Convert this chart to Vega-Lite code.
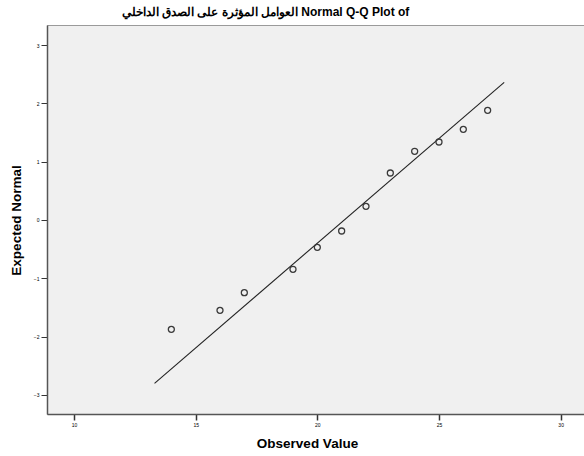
{
  "$schema": "https://vega.github.io/schema/vega-lite/v6.json",
  "autosize": {"type": "none"},
  "padding": {"left": 47, "top": 25, "right": 0, "bottom": 42},
  "width": 537,
  "height": 389,
  "background": "white",
  "config": {
    "font": "Liberation Sans",
    "view": {"fill": "#f0f0f0", "stroke": "#9a9a9a", "strokeWidth": 1}
  },
  "title": {
    "text": "العوامل المؤثرة على الصدق الداخلي Normal Q-Q Plot of",
    "font": "Liberation Sans",
    "fontSize": 12,
    "fontWeight": "bold",
    "color": "#000",
    "anchor": "middle",
    "dx": -50,
    "offset": 6
  },
  "datasets": {
    "observed": [
      {"value": 14, "expected": -1.874},
      {"value": 16, "expected": -1.548},
      {"value": 17, "expected": -1.246},
      {"value": 19, "expected": -0.845},
      {"value": 20, "expected": -0.468},
      {"value": 21, "expected": -0.189},
      {"value": 22, "expected": 0.235},
      {"value": 23, "expected": 0.806},
      {"value": 24, "expected": 1.178},
      {"value": 25, "expected": 1.337},
      {"value": 26, "expected": 1.555},
      {"value": 27, "expected": 1.88}
    ],
    "reference": [
      {"value": 13.31, "expected": -2.8},
      {"value": 27.68, "expected": 2.36}
    ]
  },
  "encoding": {
    "x": {
      "field": "value",
      "type": "quantitative",
      "scale": {"domain": [8.89, 30.96], "nice": false, "zero": false},
      "axis": {
        "title": "Observed Value",
        "titleFont": "Liberation Sans",
        "titleFontSize": 13.5,
        "titleFontWeight": "bold",
        "titleColor": "#000",
        "titleX": 260,
        "titleY": 29,
        "titleBaseline": "middle",
        "values": [10, 15, 20, 25, 30],
        "format": "d",
        "labelFontSize": 5,
        "labelColor": "#000",
        "labelPadding": 2,
        "tickSize": 6,
        "tickColor": "#333",
        "tickWidth": 1.5,
        "domainColor": "#555",
        "domainWidth": 1.5,
        "grid": false
      }
    },
    "y": {
      "field": "expected",
      "type": "quantitative",
      "scale": {"domain": [-3.326, 3.343], "nice": false, "zero": false},
      "axis": {
        "title": "Expected Normal",
        "titleFont": "Liberation Sans",
        "titleFontSize": 13.5,
        "titleFontWeight": "bold",
        "titleColor": "#000",
        "titleX": -31,
        "titleY": 195,
        "titleAngle": -90,
        "titleBaseline": "middle",
        "titleAlign": "center",
        "values": [-3, -2, -1, 0, 1, 2, 3],
        "format": "d",
        "labelFontSize": 5,
        "labelColor": "#000",
        "labelPadding": 2,
        "tickSize": 6,
        "tickColor": "#333",
        "tickWidth": 1,
        "domainColor": "#555",
        "domainWidth": 1.5,
        "grid": false
      }
    }
  },
  "layer": [
    {
      "data": {"name": "reference"},
      "mark": {"type": "line", "color": "#222", "strokeWidth": 1.1},
      "encoding": {}
    },
    {
      "data": {"name": "observed"},
      "mark": {"type": "point", "shape": "circle", "size": 36, "filled": false, "stroke": "#3a3a3a", "strokeWidth": 1.3, "opacity": 1},
      "encoding": {}
    }
  ]
}
